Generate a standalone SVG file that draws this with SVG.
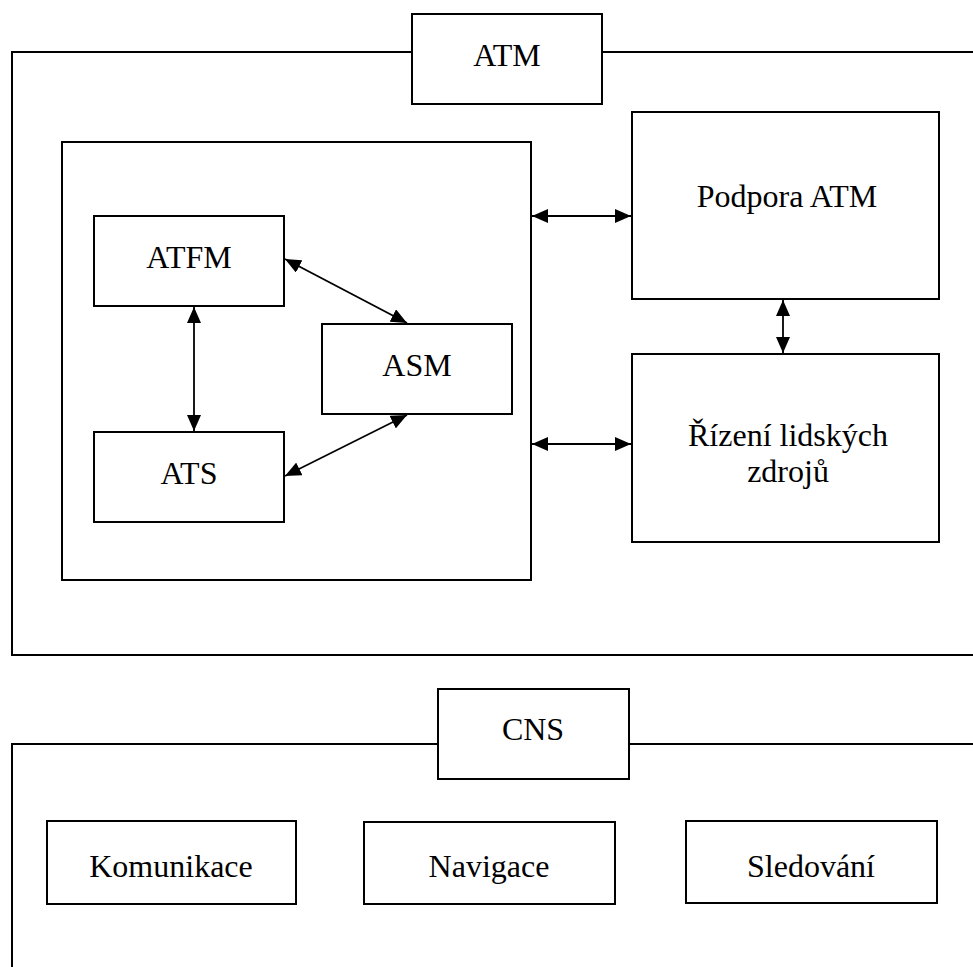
<svg xmlns="http://www.w3.org/2000/svg" width="973" height="967" viewBox="0 0 973 967">
<style>
.box{fill:#fff;stroke:#000;stroke-width:2}
.frame{fill:none;stroke:#000;stroke-width:2}
text{font-family:"Liberation Serif","Times New Roman",serif;font-size:32px;text-anchor:middle;fill:#000}
.conn line{stroke:#000;stroke-width:1.8;marker-start:url(#ah);marker-end:url(#ah)}
</style>
<defs>
<marker id="ah" markerUnits="userSpaceOnUse" markerWidth="16" markerHeight="14" refX="16" refY="7" orient="auto-start-reverse" viewBox="0 0 16 14">
<path d="M0,0 L16,7 L0,14 Z" fill="#000"/>
</marker>
</defs>
<rect width="973" height="967" fill="#fff"/>
<g id="atm-frame">
<path class="frame" d="M412,52 H12 V655 H975 M602,52 H975"/>
</g>
<g id="cns-frame">
<path class="frame" d="M438,744 H12 V970 M629,744 H975"/>
</g>
<g id="atm-label"><rect class="box" x="412" y="14" width="190" height="90"/><text x="507" y="66">ATM</text></g>
<g id="atm-core"><rect class="box" x="62" y="142" width="469" height="438"/></g>
<g id="atfm"><rect class="box" x="94" y="216" width="190" height="90"/><text x="189" y="268">ATFM</text></g>
<g id="asm"><rect class="box" x="322" y="324" width="190" height="90"/><text x="417" y="376">ASM</text></g>
<g id="ats"><rect class="box" x="94" y="432" width="190" height="90"/><text x="189" y="484">ATS</text></g>
<g id="podpora"><rect class="box" x="632" y="112" width="307" height="187"/><text x="787" y="207">Podpora ATM</text></g>
<g id="rizeni"><rect class="box" x="632" y="354" width="307" height="188"/><text x="788" y="446">Řízení lidských</text><text x="788" y="482">zdrojů</text></g>
<g id="cns-label"><rect class="box" x="438" y="689" width="191" height="90"/><text x="533" y="740">CNS</text></g>
<g id="komunikace"><rect class="box" x="47" y="821" width="249" height="83"/><text x="171" y="877">Komunikace</text></g>
<g id="navigace"><rect class="box" x="364" y="822" width="251" height="82"/><text x="489" y="877">Navigace</text></g>
<g id="sledovani"><rect class="box" x="686" y="821" width="251" height="82"/><text x="811" y="877">Sledování</text></g>
<g id="connectors" class="conn">
<line x1="285" y1="259" x2="407" y2="323"/>
<line x1="407" y1="415" x2="285" y2="476"/>
<line x1="194" y1="307" x2="194" y2="431"/>
<line x1="532" y1="216" x2="631" y2="216"/>
<line x1="532" y1="444" x2="631" y2="444"/>
<line x1="783" y1="300" x2="783" y2="353"/>
</g>
</svg>
